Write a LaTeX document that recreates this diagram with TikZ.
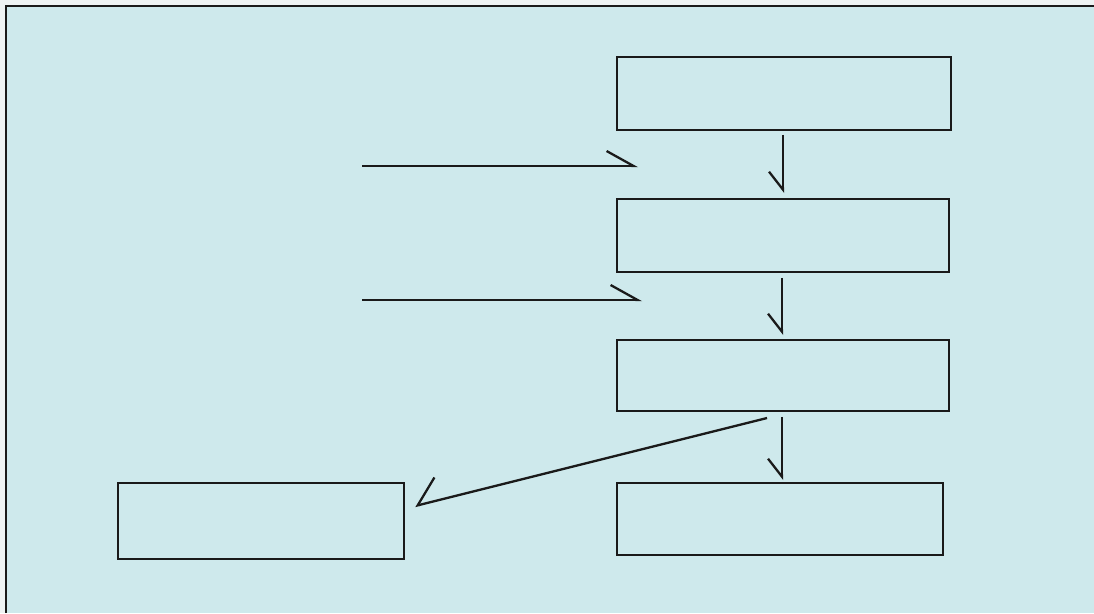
\documentclass[tikz,border=0pt]{standalone}
\usetikzlibrary{arrows.meta}
\definecolor{bgblue}{HTML}{CEE9EC}
\definecolor{paper}{HTML}{EEF3F3}
\definecolor{ink}{HTML}{1A1A1A}
\begin{document}
\begin{tikzpicture}[x=0.02cm,y=-0.02cm,
  box/.style={draw=ink, line width=1.4pt, rectangle, anchor=north west, inner sep=0pt, outer sep=0pt},
  conn/.style={draw=ink, line width=1.3pt},
  harpL/.style={-{Straight Barb[harpoon,length=0.54cm,width=0.6cm,line width=1.3pt]}},
  harpR/.style={-{Straight Barb[harpoon,swap,length=0.36cm,width=0.56cm,line width=1.3pt]}},
  harpD/.style={-{Straight Barb[harpoon,swap,length=0.46cm,width=0.92cm,line width=1.3pt]}}]
\useasboundingbox (0,0) rectangle (1094,613);
\fill[paper] (0,0) rectangle (1094,613);
\fill[bgblue] (6,6) rectangle (1094,613);
\draw[ink, line width=1.6pt] (6,613) -- (6,6) -- (1094,6);
% boxes
\node[box, minimum width=6.68cm, minimum height=1.46cm] (b1) at (617,57) {};
\node[box, minimum width=6.64cm, minimum height=1.46cm] (b2) at (617,199) {};
\node[box, minimum width=6.64cm, minimum height=1.42cm] (b3) at (617,340) {};
\node[box, minimum width=6.52cm, minimum height=1.44cm] (b4) at (617,483) {};
\node[box, minimum width=5.72cm, minimum height=1.52cm] (b5) at (118,483) {};
% free ends
\coordinate (h1s) at (362,166);
\coordinate (h1e) at (638,166);
\coordinate (h2s) at (362,300);
\coordinate (h2e) at (642,300);
\coordinate (ds) at (767,418);
\coordinate (de) at (415,506);
% connectors
\draw[conn, harpL] (h1s) -- (h1e);
\draw[conn, harpL] (h2s) -- (h2e);
\draw[conn, harpR, shorten <=0.1cm, shorten >=0.12cm] (b1.south -| 783,0) -- (b2.north -| 783,0);
\draw[conn, harpR, shorten <=0.12cm, shorten >=0.1cm] (b2.south -| 782,0) -- (b3.north -| 782,0);
\draw[conn, harpR, shorten <=0.12cm, shorten >=0.06cm] (b3.south -| 782,0) -- (b4.north -| 782,0);
\draw[conn, harpD] (ds) -- (de);
\end{tikzpicture}
\end{document}
